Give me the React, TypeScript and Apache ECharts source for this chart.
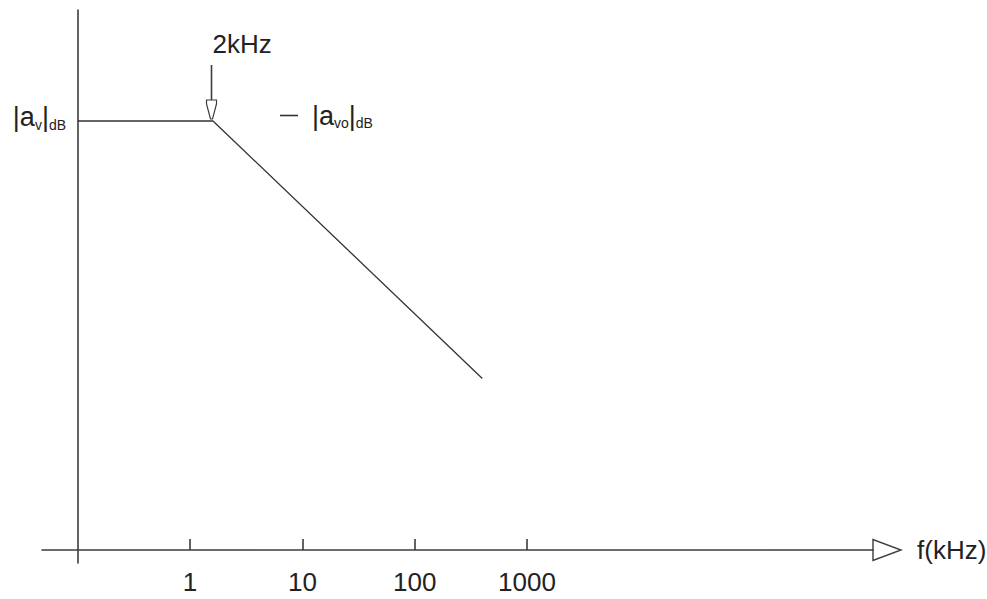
import React, { useEffect, useRef } from "react";
import * as echarts from "echarts";

// ---- data ----
const freqKHz = [0.1, 1.6, 400];
const gainDB = [80, 80, 32];
const tickFreqs = [1, 10, 100, 1000];
const tickLabels = ["1", "10", "100", "1000"];
const yLabelValues = [80];
const cornerLabel = "2kHz";
const seriesName = "|avo|dB";
const xAxisName = "f(kHz)";
const xDecadeRange = [-0.318, 7.08]; // decades above 0.1 kHz
const yRange = [-2.42, 100.7];

const BASE = 0.1;
const toU = (f: number) => Math.log10(f / BASE);

const FONT = "Liberation Sans";
const INK = "#222";
const AXIS = "#3c3c3c";

const rich = {
  m: { fontSize: 27, lineHeight: 30, color: INK, fontFamily: FONT },
  s: { fontSize: 14, lineHeight: 20, color: INK, fontFamily: FONT, verticalAlign: "bottom" },
  p: { fontSize: 27, lineHeight: 30, color: INK, fontFamily: FONT, padding: [0, 0, 0, 9] },
};

export default function App() {
  const ref = useRef<HTMLDivElement>(null);
  useEffect(() => {
    if (!ref.current) return;
    const chart = echarts.init(ref.current, undefined, { renderer: "svg" });
    const data = freqKHz.map((f, i) => [toU(f), gainDB[i]]);
    const tickU = tickFreqs.map(toU);
    chart.setOption({
      animation: false,
      grid: { left: 42, right: 114, top: 10, bottom: 36, outerBoundsMode: "none" },
      legend: {
        left: 275,
        top: 97,
        itemWidth: 18,
        itemHeight: 1.6,
        icon: "rect",
        data: [seriesName],
        formatter: () => "{p||a}{s|vo}{m||}{s|dB}",
        textStyle: { rich },
      },
      xAxis: {
        type: "value",
        min: xDecadeRange[0],
        max: xDecadeRange[1],
        name: xAxisName,
        nameLocation: "end",
        nameGap: 44,
        nameTextStyle: { fontSize: 26, fontFamily: FONT, color: INK, verticalAlign: "middle" },
        axisLine: { onZero: true, lineStyle: { color: AXIS, width: 1.6 } },
        axisTick: { show: true, inside: true, length: 11, customValues: tickU, lineStyle: { color: AXIS, width: 1.6 } },
        axisLabel: {
          customValues: tickU,
          formatter: (v: number) => {
            const i = tickU.findIndex((t) => Math.abs(t - v) < 1e-6);
            return i >= 0 ? tickLabels[i] : "";
          },
          fontSize: 26,
          fontFamily: FONT,
          color: INK,
          margin: 6,
        },
        splitLine: { show: false },
      },
      yAxis: {
        type: "value",
        min: yRange[0],
        max: yRange[1],
        axisLine: { show: true, onZero: true, lineStyle: { color: AXIS, width: 1.6 } },
        axisTick: { show: false },
        axisLabel: {
          customValues: yLabelValues,
          formatter: () => "{m||a}{s|v}{m||}{s|dB}",
          rich,
          margin: -24,
          padding: [0, 0, 8, 0],
        },
        splitLine: { show: false },
      },
      series: [
        {
          name: seriesName,
          type: "line",
          data,
          symbol: "none",
          lineStyle: { color: "#333", width: 1.3 },
          itemStyle: { color: "#333" },
        },
      ],
    });

    const [cx, cy] = chart.convertToPixel({ seriesIndex: 0 }, data[1]) as number[];
    const ex = chart.convertToPixel({ xAxisIndex: 0 }, xDecadeRange[1]) as number;
    const ay = chart.convertToPixel({ yAxisIndex: 0 }, 0) as number;
    const x0 = Math.round(cx) - 1.5;
    chart.setOption({
      graphic: [
        {
          type: "line",
          shape: { x1: x0, y1: cy - 56, x2: x0, y2: cy - 21 },
          style: { stroke: AXIS, lineWidth: 1.6 },
        },
        {
          type: "polygon",
          shape: {
            points: [
              [x0 - 5, cy - 21],
              [x0 + 5, cy - 21],
              [x0 + 5, cy - 17],
              [x0 + 1, cy - 2],
              [x0 - 1, cy - 2],
              [x0 - 5, cy - 17],
            ],
          },
          style: { fill: "#fff", stroke: AXIS, lineWidth: 1.2 },
        },
        {
          type: "text",
          x: x0 + 1,
          y: cy - 77,
          style: {
            text: cornerLabel,
            fontSize: 26,
            fontFamily: FONT,
            fill: INK,
            align: "left",
            verticalAlign: "middle",
          },
        },
        {
          type: "polygon",
          shape: {
            points: [
              [ex, ay - 10.5],
              [ex, ay + 10.5],
              [ex + 28, ay],
            ],
          },
          style: { fill: "#fff", stroke: AXIS, lineWidth: 1.4 },
        },
      ],
    });
    return () => chart.dispose();
  }, []);
  return (
    <div
      ref={ref}
      style={{ position: "fixed", left: 0, top: 0, width: 987, height: 599, background: "#fff" }}
    />
  );
}
